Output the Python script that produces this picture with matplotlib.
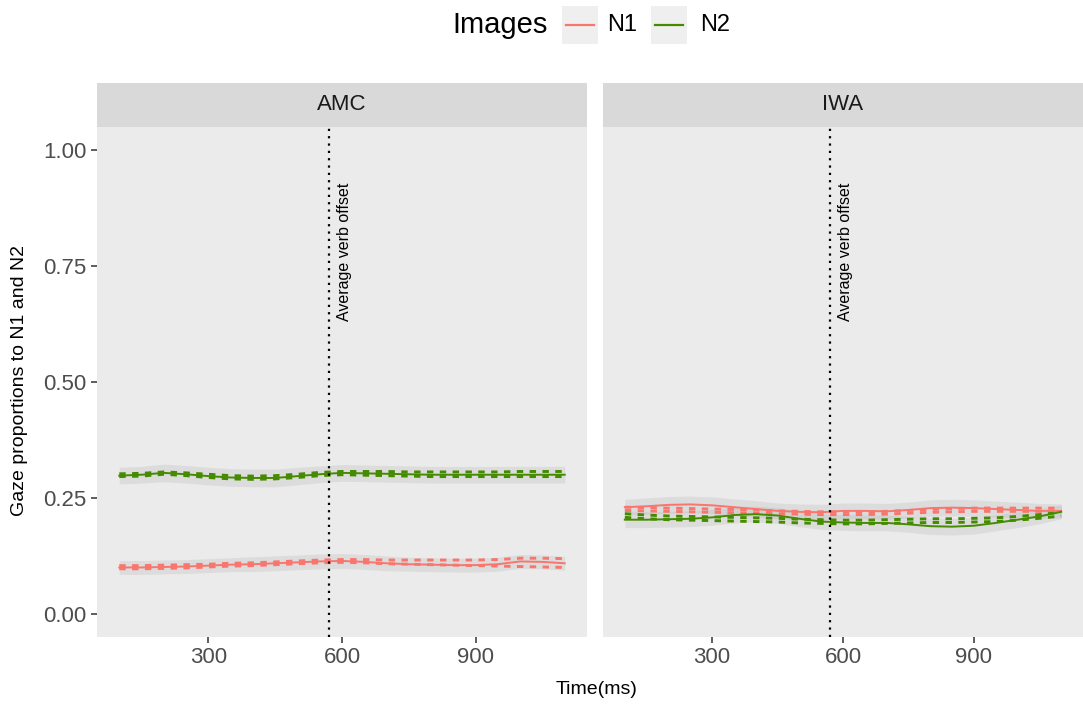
import matplotlib
matplotlib.use("Agg")
import matplotlib.pyplot as plt
from matplotlib.patches import Rectangle
from matplotlib.lines import Line2D

plt.rcParams['font.family'] = ['Liberation Sans', 'DejaVu Sans']

# ------------------------------- data ---------------------------------------
time_ms = [100, 150, 200, 250, 300, 350, 400, 450, 500, 550, 600,
           650, 700, 750, 800, 850, 900, 950, 1000, 1050, 1100]
verb_offset = 571
groups = ['AMC', 'IWA']

# AMC
amc_n1_mean = [.100, .100, .101, .102, .104, .106, .107, .109, .111, .113, .114,
               .112, .109, .107, .106, .105, .105, .107, .113, .112, .109]
amc_n1_fit_hi = [.104, .104, .105, .106, .107, .109, .110, .112, .114, .116, .117,
                 .117, .116, .116, .116, .116, .116, .117, .120, .120, .119]
amc_n1_fit_lo = [.097, .097, .098, .099, .101, .103, .104, .106, .108, .110, .111,
                 .110, .108, .107, .106, .105, .104, .103, .102, .101, .100]
amc_n1_se = [.015, .015, .015, .015, .015, .015, .016, .016, .016, .016, .016,
             .016, .016, .015, .015, .015, .015, .015, .015, .015, .015]

amc_n2_mean = [.298, .300, .304, .301, .297, .294, .293, .293, .297, .301, .304,
               .303, .302, .301, .300, .300, .300, .300, .300, .300, .300]
amc_n2_fit_hi = [.302, .303, .306, .304, .301, .298, .297, .298, .301, .305, .307,
                 .307, .307, .306, .306, .306, .306, .306, .307, .307, .307]
amc_n2_fit_lo = [.296, .297, .301, .298, .294, .291, .290, .291, .294, .298, .300,
                 .299, .298, .297, .296, .296, .296, .296, .296, .296, .296]
amc_n2_se = [.018, .018, .019, .019, .019, .019, .019, .019, .019, .018, .018,
             .018, .018, .018, .018, .018, .018, .018, .018, .018, .018]

# IWA
iwa_n1_mean = [.230, .232, .235, .236, .234, .230, .226, .222, .220, .219, .222,
               .222, .221, .224, .228, .229, .228, .226, .224, .222, .222]
iwa_n1_fit_hi = [.230, .229, .228, .227, .226, .225, .224, .222, .221, .220, .220,
                 .220, .221, .223, .225, .227, .228, .228, .228, .228, .228]
iwa_n1_fit_lo = [.223, .222, .221, .220, .219, .218, .217, .216, .215, .214, .214,
                 .214, .215, .217, .219, .220, .221, .221, .221, .221, .222]
iwa_n1_se = [.017, .018, .018, .018, .018, .018, .018, .017, .017, .017, .017,
             .017, .017, .017, .018, .018, .018, .017, .017, .016, .015]

iwa_n2_mean = [.203, .203, .204, .205, .208, .213, .215, .212, .205, .199, .197,
               .196, .196, .193, .189, .188, .190, .196, .203, .210, .220]
iwa_n2_fit_hi = [.216, .213, .211, .210, .209, .208, .207, .206, .204, .203, .202,
                 .202, .203, .204, .205, .205, .206, .207, .210, .214, .219]
iwa_n2_fit_lo = [.208, .205, .203, .202, .201, .200, .199, .198, .196, .195, .194,
                 .194, .195, .196, .197, .197, .198, .199, .202, .206, .211]
iwa_n2_se = [.017, .017, .017, .017, .017, .017, .017, .017, .017, .017, .017,
             .017, .017, .017, .018, .018, .018, .017, .017, .016, .015]

series = {
    'AMC': [('N1', amc_n1_mean, amc_n1_fit_hi, amc_n1_fit_lo, amc_n1_se),
            ('N2', amc_n2_mean, amc_n2_fit_hi, amc_n2_fit_lo, amc_n2_se)],
    'IWA': [('N1', iwa_n1_mean, iwa_n1_fit_hi, iwa_n1_fit_lo, iwa_n1_se),
            ('N2', iwa_n2_mean, iwa_n2_fit_hi, iwa_n2_fit_lo, iwa_n2_se)],
}
colors = {'N1': '#F8766D', 'N2': '#458B00'}

# ------------------------------- layout -------------------------------------
W, H = 1083, 704
fig = plt.figure(figsize=(W / 100, H / 100), dpi=100)

panel_px = {'AMC': (97, 587), 'IWA': (603, 1083)}
top_px, bot_px, strip_top_px = 127, 637, 83

for i, g in enumerate(groups):
    x0, x1 = panel_px[g]
    ax = fig.add_axes([x0 / W, (H - bot_px) / H, (x1 - x0) / W, (bot_px - top_px) / H])
    ax.set_facecolor('#EBEBEB')
    for s in ax.spines.values():
        s.set_visible(False)

    for name, mean, hi, lo, se in series[g]:
        lower = [m - e for m, e in zip(mean, se)]
        upper = [m + e for m, e in zip(mean, se)]
        ax.fill_between(time_ms, lower, upper, color='#9a9a9a', alpha=0.18,
                        linewidth=0, zorder=1)
    for name, mean, hi, lo, se in series[g]:
        c = colors[name]
        ax.plot(time_ms, hi, color=c, lw=2.1, ls=(0, (2.2, 2.2)), zorder=2)
        ax.plot(time_ms, lo, color=c, lw=2.1, ls=(0, (2.2, 2.2)), zorder=2)
        ax.plot(time_ms, mean, color=c, lw=1.4, zorder=3)

    ax.axvline(verb_offset, color='black', ls=(0, (1, 2.3)), lw=1.6, zorder=4)
    ax.text(605, 0.78, 'Average verb offset', rotation=90, ha='center',
            va='center', fontsize=11.5, color='black')

    ax.set_xlim(50, 1150)
    ax.set_ylim(-0.05, 1.05)
    ax.set_xticks([300, 600, 900])
    ax.set_yticks([0, 0.25, 0.5, 0.75, 1.0])
    ax.tick_params(colors='#333333', labelcolor='#4D4D4D', labelsize=16,
                   length=4, width=1.1)
    if i == 0:
        ax.set_yticklabels(['0.00', '0.25', '0.50', '0.75', '1.00'])
    else:
        ax.tick_params(axis='y', left=False, labelleft=False)

    # facet strip
    sax = fig.add_axes([x0 / W, (H - top_px) / H, (x1 - x0) / W,
                        (top_px - strip_top_px) / H])
    sax.set_facecolor('#D9D9D9')
    sax.set_xticks([])
    sax.set_yticks([])
    for s in sax.spines.values():
        s.set_visible(False)
    sax.text(0.5, 0.5, g, ha='center', va='center', fontsize=16,
             color='#1A1A1A', transform=sax.transAxes)

# axis titles
fig.text(597 / W, 1 - 689 / H, 'Time(ms)', ha='center', va='center', fontsize=14)
fig.text(20 / W, 1 - 380 / H, 'Gaze proportions to N1 and N2', rotation=90,
         ha='center', va='center', fontsize=14)

# legend (top)
fig.text(500 / W, 1 - 25 / H, 'Images', ha='center', va='center', fontsize=21)
for name, (kx, lx) in zip(['N1', 'N2'], [(562, 622), (651, 715)]):
    fig.patches.append(Rectangle((kx / W, 1 - 44 / H), 36 / W, 38 / H,
                                 transform=fig.transFigure, facecolor='#EFEFEF',
                                 edgecolor='none'))
    fig.lines.append(Line2D([(kx + 4) / W, (kx + 32) / W], [1 - 25 / H, 1 - 25 / H],
                            transform=fig.transFigure, color=colors[name], lw=1.6))
    fig.text(lx / W, 1 - 25 / H, name, ha='center', va='center', fontsize=17)

fig.savefig('out.png', dpi=100)
